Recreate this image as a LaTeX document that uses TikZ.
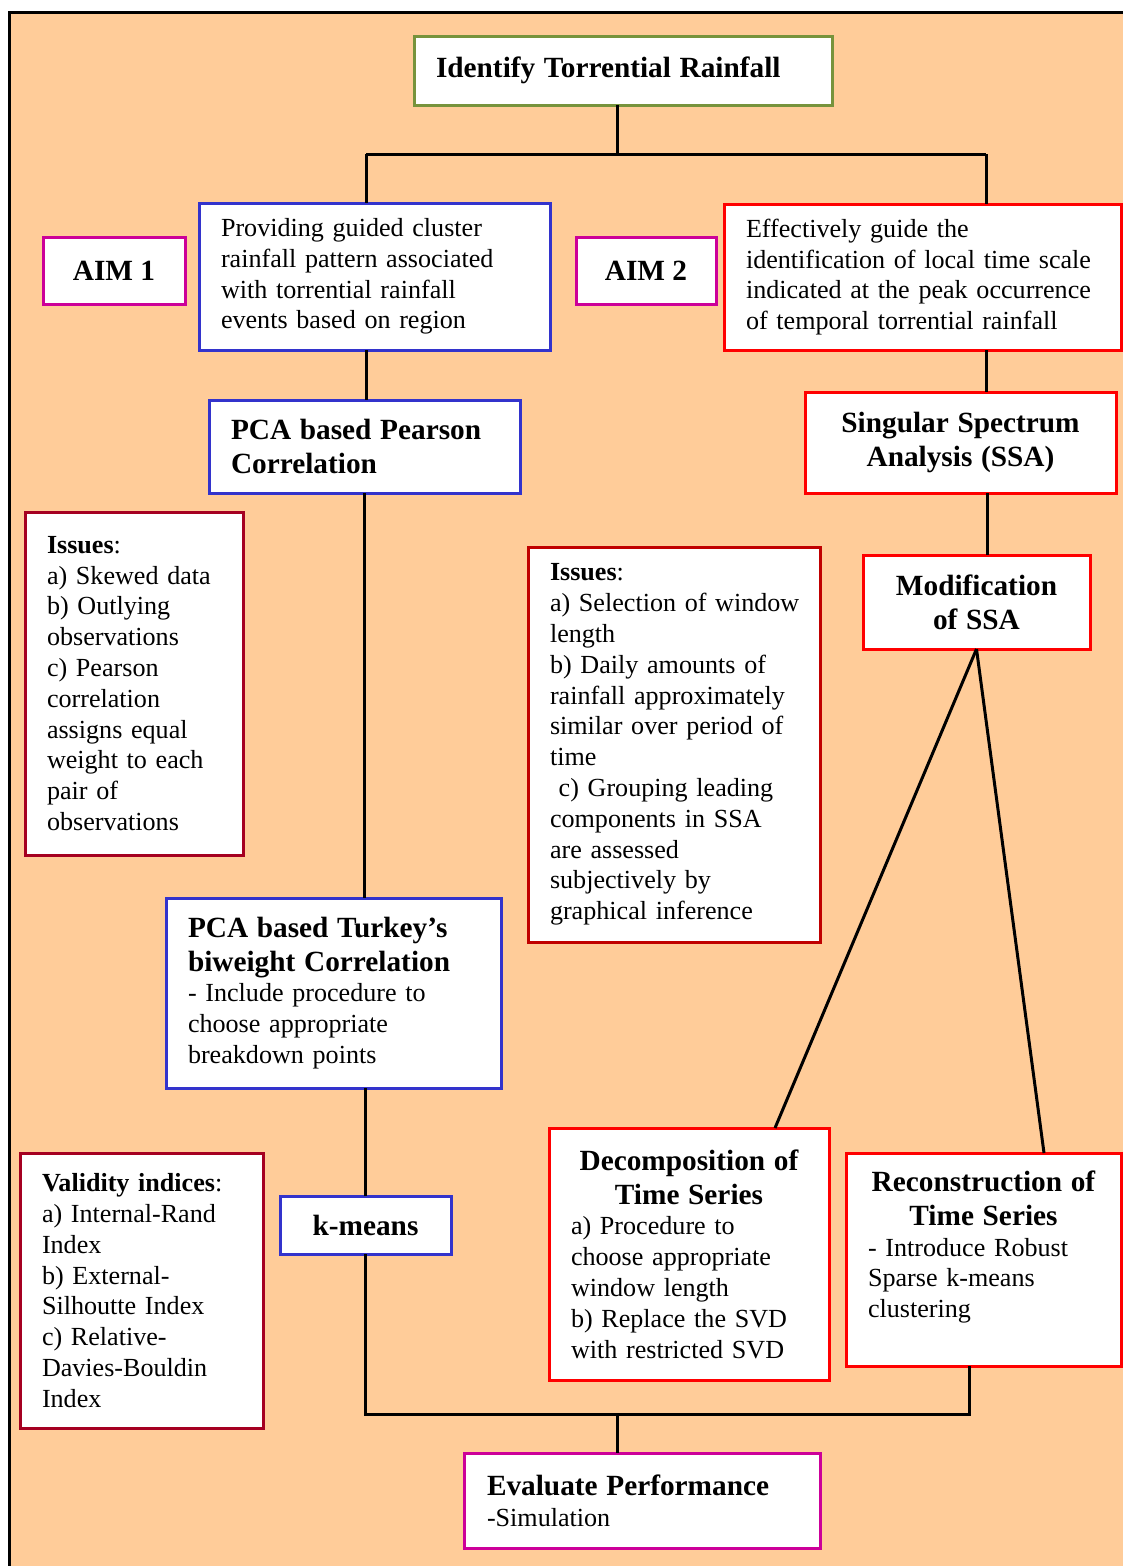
\documentclass[tikz,border=0pt]{standalone}
\usepackage{fontspec}
\setmainfont{Liberation Serif}
\usetikzlibrary{calc}
\definecolor{bgor}{HTML}{FFCC99}
\definecolor{greenb}{HTML}{77933C}
\definecolor{blueb}{HTML}{3333CC}
\definecolor{redb}{HTML}{FF0000}
\definecolor{darkredb}{HTML}{A50021}
\definecolor{midred}{HTML}{C00000}
\definecolor{magb}{HTML}{CC0099}
\newcommand\rg{\fontsize{26.1}{30.8}\selectfont}
\newcommand\hd{\fontsize{29.3}{34}\selectfont\bfseries}
\setlength\parindent{0pt}
\begin{document}
\begin{tikzpicture}[x=1pt,y=-1pt,
  bx/.style={draw, fill=white, line width=3pt, anchor=north west, outer sep=0pt,
    inner xsep=22pt, inner ysep=3pt, align=left, font=\rg},
  cbx/.style={bx, align=center},
  conn/.style={line width=3pt, draw=black}]
\useasboundingbox (0,0) rectangle (1123,1566);
\clip (0,0) rectangle (1123,1566);
% background frame
\fill[bgor] (9,12) rectangle (1150,1600);
\draw[line width=3pt] (9,1600) -- (9,12) -- (1150,12);

% nodes
\node[bx, draw=greenb, minimum width=418pt, minimum height=69pt, text width=374pt] (top) at (414,36)
  {\hd Identify Torrential Rainfall\par};
\node[cbx, draw=magb, minimum width=142pt, minimum height=67pt] (aim1) at (43,237) {\hd AIM 1};
\node[bx, draw=blueb, minimum width=351pt, minimum height=147pt, text width=307pt] (prov) at (199,203)
  {\mbox{Providing guided cluster}\\\mbox{rainfall pattern associated}\\\mbox{with torrential rainfall}\\\mbox{events based on region}\par};
\node[cbx, draw=magb, minimum width=140pt, minimum height=67pt] (aim2) at (576,237) {\hd AIM 2};
\node[bx, draw=redb, minimum width=397pt, minimum height=146pt, text width=353pt] (eff) at (724,204)
  {\mbox{Effectively guide the}\\\mbox{identification of local time scale}\\\mbox{indicated at the peak occurrence}\\\mbox{of temporal torrential rainfall}\par};
\node[bx, draw=blueb, minimum width=311pt, minimum height=93pt, text width=267pt] (pear) at (209,400)
  {\hd \mbox{PCA based Pearson}\\\mbox{Correlation}\par};
\node[cbx, draw=redb, minimum width=311pt, minimum height=101pt, text width=267pt] (ssa) at (805,392)
  {\hd \mbox{Singular Spectrum}\\\mbox{Analysis (SSA)}\par};
\node[bx, draw=darkredb, minimum width=218pt, minimum height=343pt, text width=174pt] (iss1) at (25,512)
  {\mbox{\textbf{Issues}:}\\\mbox{a) Skewed data}\\\mbox{b) Outlying}\\\mbox{observations}\\\mbox{c) Pearson}\\\mbox{correlation}\\\mbox{assigns equal}\\\mbox{weight to each}\\\mbox{pair of}\\\mbox{observations}\par};
\node[bx, draw=midred, minimum width=292pt, minimum height=395pt, text width=248pt] (iss2) at (528,547)
  {\mbox{\textbf{Issues}:}\\\mbox{a) Selection of window}\\\mbox{length}\\\mbox{b) Daily amounts of}\\\mbox{rainfall approximately}\\\mbox{similar over period of}\\\mbox{time}\\\mbox{ c) Grouping leading}\\\mbox{components in SSA}\\\mbox{are assessed}\\\mbox{subjectively by}\\\mbox{graphical inference}\par};
\node[cbx, draw=redb, minimum width=227pt, minimum height=94pt, text width=183pt] (mod) at (863,555)
  {\hd \mbox{Modification}\\\mbox{of SSA}\par};
\node[bx, draw=blueb, minimum width=335pt, minimum height=190pt, text width=291pt] (turk) at (166,898)
  {{\hd \mbox{PCA based Turkey's}\\\mbox{biweight Correlation}\par}\mbox{- Include procedure to}\\\mbox{choose appropriate}\\\mbox{breakdown points}\par};
\node[cbx, draw=blueb, minimum width=171pt, minimum height=58pt] (km) at (280,1196) {\hd k-means};
\node[bx, draw=darkredb, minimum width=243pt, minimum height=275pt, text width=199pt] (val) at (20,1153)
  {\mbox{\textbf{Validity indices}:}\\\mbox{a) Internal-Rand}\\\mbox{Index}\\\mbox{b) External-}\\\mbox{Silhoutte Index}\\\mbox{c) Relative-}\\\mbox{Davies-Bouldin}\\\mbox{Index}\par};
\node[bx, draw=redb, minimum width=280pt, minimum height=252pt, text width=236pt] (dec) at (549,1128)
  {{\centering\hd \mbox{Decomposition of}\\\mbox{Time Series}\par}\mbox{a) Procedure to}\\\mbox{choose appropriate}\\\mbox{window length}\\\mbox{b) Replace the SVD}\\\mbox{with restricted SVD}\par};
\node[bx, draw=redb, minimum width=275pt, minimum height=213pt, text width=231pt] (rec) at (846,1153)
  {{\centering\hd \mbox{Reconstruction of}\\\mbox{Time Series}\par}\mbox{- Introduce Robust}\\\mbox{Sparse k-means}\\\mbox{clustering}\\\mbox{}\par};
\node[bx, draw=magb, inner xsep=23pt, minimum width=356pt, minimum height=95pt, text width=310pt] (eva) at (464,1453)
  {{\hd \mbox{Evaluate Performance}\par}\mbox{-Simulation}\par};

% connectors
\coordinate (jL) at (366,154);
\coordinate (jR) at (986,154);
\coordinate (jS) at (987,493);
\coordinate (bL) at (365.5,1414);
\coordinate (bR) at (969,1414);
\coordinate (bM) at (617,1414);
\coordinate (topj) at (617,154);
\draw[conn] (topj |- top.south) -- (topj);
\draw[conn] (jL) -- (jR);
\draw[conn] (jL) -- (jL |- prov.north);
\draw[conn] (jR) -- (jR |- eff.north);
\draw[conn] (jL |- prov.south) -- (jL |- pear.north);
\draw[conn] (jR |- eff.south) -- (jR |- ssa.north);
\draw[conn] (jS |- ssa.south) -- (jS |- mod.north);
\draw[conn] (pear.south) -- (pear.south |- turk.north);
\draw[conn] (km.north) -- (km.north |- turk.south);
\draw[conn] (km.south) -- (bL) -- (bR) -- (bR |- rec.south);
\draw[conn] (bM) -- (bM |- eva.north);
\draw[conn] (mod.south) -- ([xshift=226pt]dec.north west);
\draw[conn] (mod.south) -- ([xshift=198pt]rec.north west);
\end{tikzpicture}
\end{document}
